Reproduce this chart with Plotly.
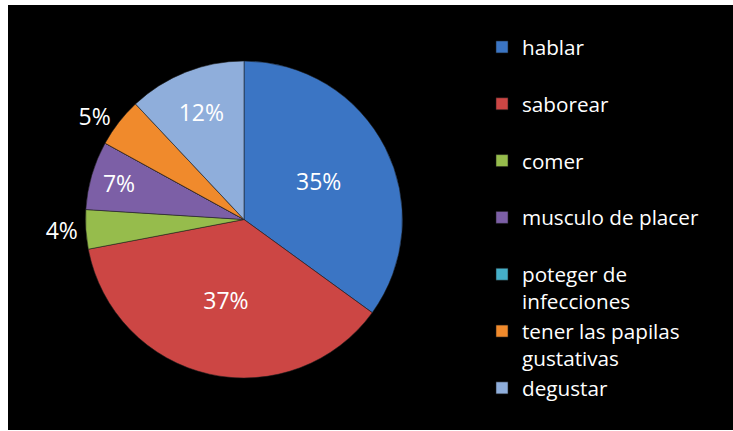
import textwrap
import plotly.graph_objects as go

categories = ["hablar", "saborear", "comer", "musculo de placer",
              "poteger de infecciones", "tener las papilas gustativas", "degustar"]
values = [35, 37, 4, 7, 0, 5, 12]
colors = ["#3B75C4", "#CC4644", "#96BC4C", "#7C5FA6", "#45AFC8", "#F08A2C", "#8FAEDB"]
label_pos = ["inside", "inside", "outside", "inside", "none", "outside", "inside"]

# legend labels: wrap long names, pad short ones to two lines like the original
legend_labels = []
for i, c in enumerate(categories):
    lines = textwrap.wrap(c, width=18)
    if len(lines) == 1 and i < len(categories) - 1:
        lines.append("\u00a0")
    legend_labels.append("<br>".join(lines))

W, H = 733, 431
cx, cy, r = 244, 219.5, 158.5

fig = go.Figure(go.Pie(
    labels=legend_labels,
    values=values,
    sort=False,
    direction="clockwise",
    rotation=0,
    marker=dict(colors=colors, line=dict(color="rgba(30,30,30,0.55)", width=1)),
    texttemplate="%{percent:.0%}",
    textposition=label_pos,
    insidetextorientation="horizontal",
    textfont=dict(family="Open Sans", size=23, color="white"),
    hoverinfo="label+percent",
    domain=dict(x=[(cx - r) / W, (cx + r) / W],
                y=[(H - cy - r) / H, (H - cy + r) / H]),
    showlegend=True,
))

fig.update_layout(
    width=W, height=H,
    margin=dict(l=0, r=0, t=0, b=0),
    paper_bgcolor="white",
    shapes=[dict(type="rect", xref="paper", yref="paper",
                 x0=8 / W, x1=1, y0=1 / H, y1=1 - 5 / H,
                 fillcolor="black", line=dict(width=0), layer="below")],
    legend=dict(x=482 / W, xanchor="left", y=1 - 27 / H, yanchor="top",
                font=dict(family="Open Sans", size=20.7, color="white"),
                valign="top", bgcolor="rgba(0,0,0,0)", tracegroupgap=0),
    showlegend=True,
)

fig.write_html("out.html", config={"displayModeBar": False},
               post_script="document.body.style.margin='0';")
